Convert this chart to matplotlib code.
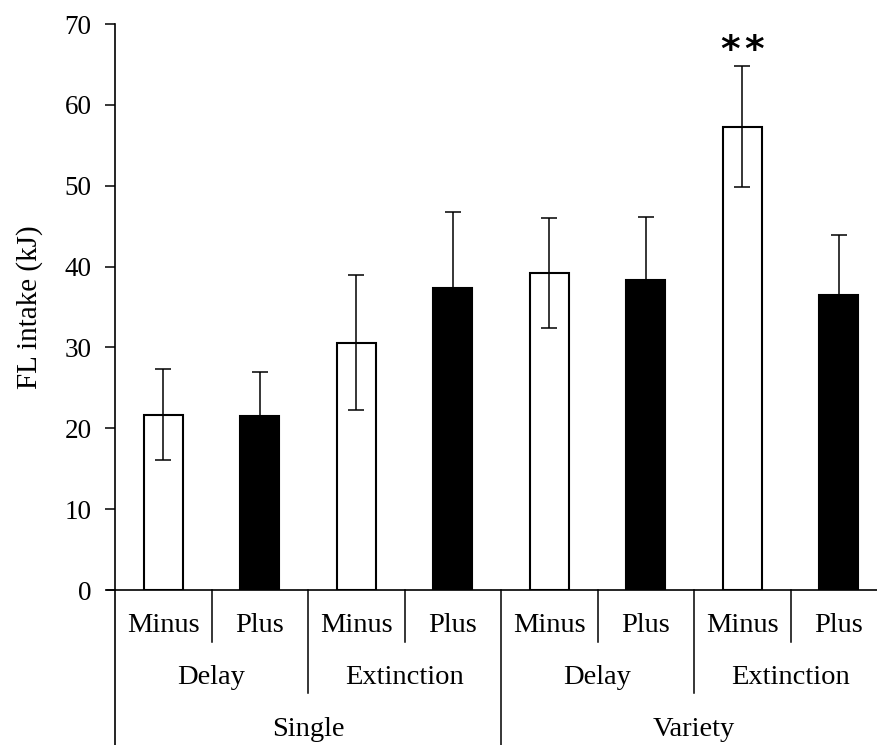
import matplotlib
matplotlib.use("Agg")
import matplotlib.pyplot as plt
from matplotlib.transforms import blended_transform_factory

# FL intake per condition, left to right
conditions = ["Minus", "Plus", "Minus", "Plus", "Minus", "Plus", "Minus", "Plus"]
phases = ["Delay", "Extinction", "Delay", "Extinction"]
groups = ["Single", "Variety"]
intake = [21.7, 21.5, 30.6, 37.4, 39.2, 38.4, 57.3, 36.5]
sem = [5.6, 5.4, 8.3, 9.3, 6.8, 7.7, 7.5, 7.4]
fills = ["white", "black", "white", "black", "white", "black", "white", "black"]
stars = {6: 2}

plt.rcParams["font.family"] = ["Liberation Serif", "DejaVu Serif"]

fig = plt.figure(figsize=(8.77, 7.45), dpi=100)
ax = fig.add_axes([115 / 877, 155 / 745, 772 / 877, 566 / 745])

xs = [i + 0.5 for i in range(len(intake))]
ax.bar(xs, intake, width=0.405, color=fills, edgecolor="black", linewidth=1.5, zorder=2)
ax.errorbar(xs, intake, yerr=sem, fmt="none", ecolor="black", elinewidth=1.1,
            capsize=6, capthick=1.1, zorder=3)

# significance stars, one text per star so they keep a small gap
for i, n in stars.items():
    step = 0.25
    for k in range(n):
        x = xs[i] + (k - (n - 1) / 2) * step
        ax.text(x, intake[i] + sem[i] + 0.6, "*", ha="center", va="baseline",
                fontsize=27, fontfamily="DejaVu Sans", fontweight="bold")

ax.set_xlim(0, 8)
ax.set_ylim(0, 70)
ax.set_yticks(range(0, 71, 10))
ax.set_xticks([])
ax.tick_params(axis="y", direction="out", length=7, width=1.1, labelsize=19.5, pad=10)
for side in ("top", "right"):
    ax.spines[side].set_visible(False)
ax.spines["left"].set_linewidth(1.2)
ax.spines["bottom"].set_linewidth(1.2)
ax.spines["bottom"].set_bounds(-0.08, 8)
ax.set_ylabel("FL intake (kJ)", fontsize=21)
ax.yaxis.set_label_coords(-0.0935, 0.5)

# three rows of category labels below the axis, separated by vertical rules
trans = blended_transform_factory(ax.transData, fig.transFigure)
row_y = [120 / 745, 68 / 745, 15 / 745]
rule_bottom = {1: 103 / 745, 2: 52 / 745, 4: 0.0}
for pos in range(1, 8):
    if pos % 4 == 0:
        bottom = rule_bottom[4]
    elif pos % 2 == 0:
        bottom = rule_bottom[2]
    else:
        bottom = rule_bottom[1]
    ax.plot([pos, pos], [155 / 745, bottom], color="black", lw=1.1,
            transform=trans, clip_on=False)
ax.plot([0, 0], [155 / 745, 0], color="black", lw=1.2, transform=trans, clip_on=False)

for i, label in enumerate(conditions):
    ax.text(i + 0.5, row_y[0], label, ha="center", va="center", fontsize=20.5, transform=trans)
for i, label in enumerate(phases):
    ax.text(2 * i + 1, row_y[1], label, ha="center", va="center", fontsize=20.5, transform=trans)
for i, label in enumerate(groups):
    ax.text(4 * i + 2, row_y[2], label, ha="center", va="center", fontsize=20.5, transform=trans)

fig.savefig("out.png", dpi=100)
